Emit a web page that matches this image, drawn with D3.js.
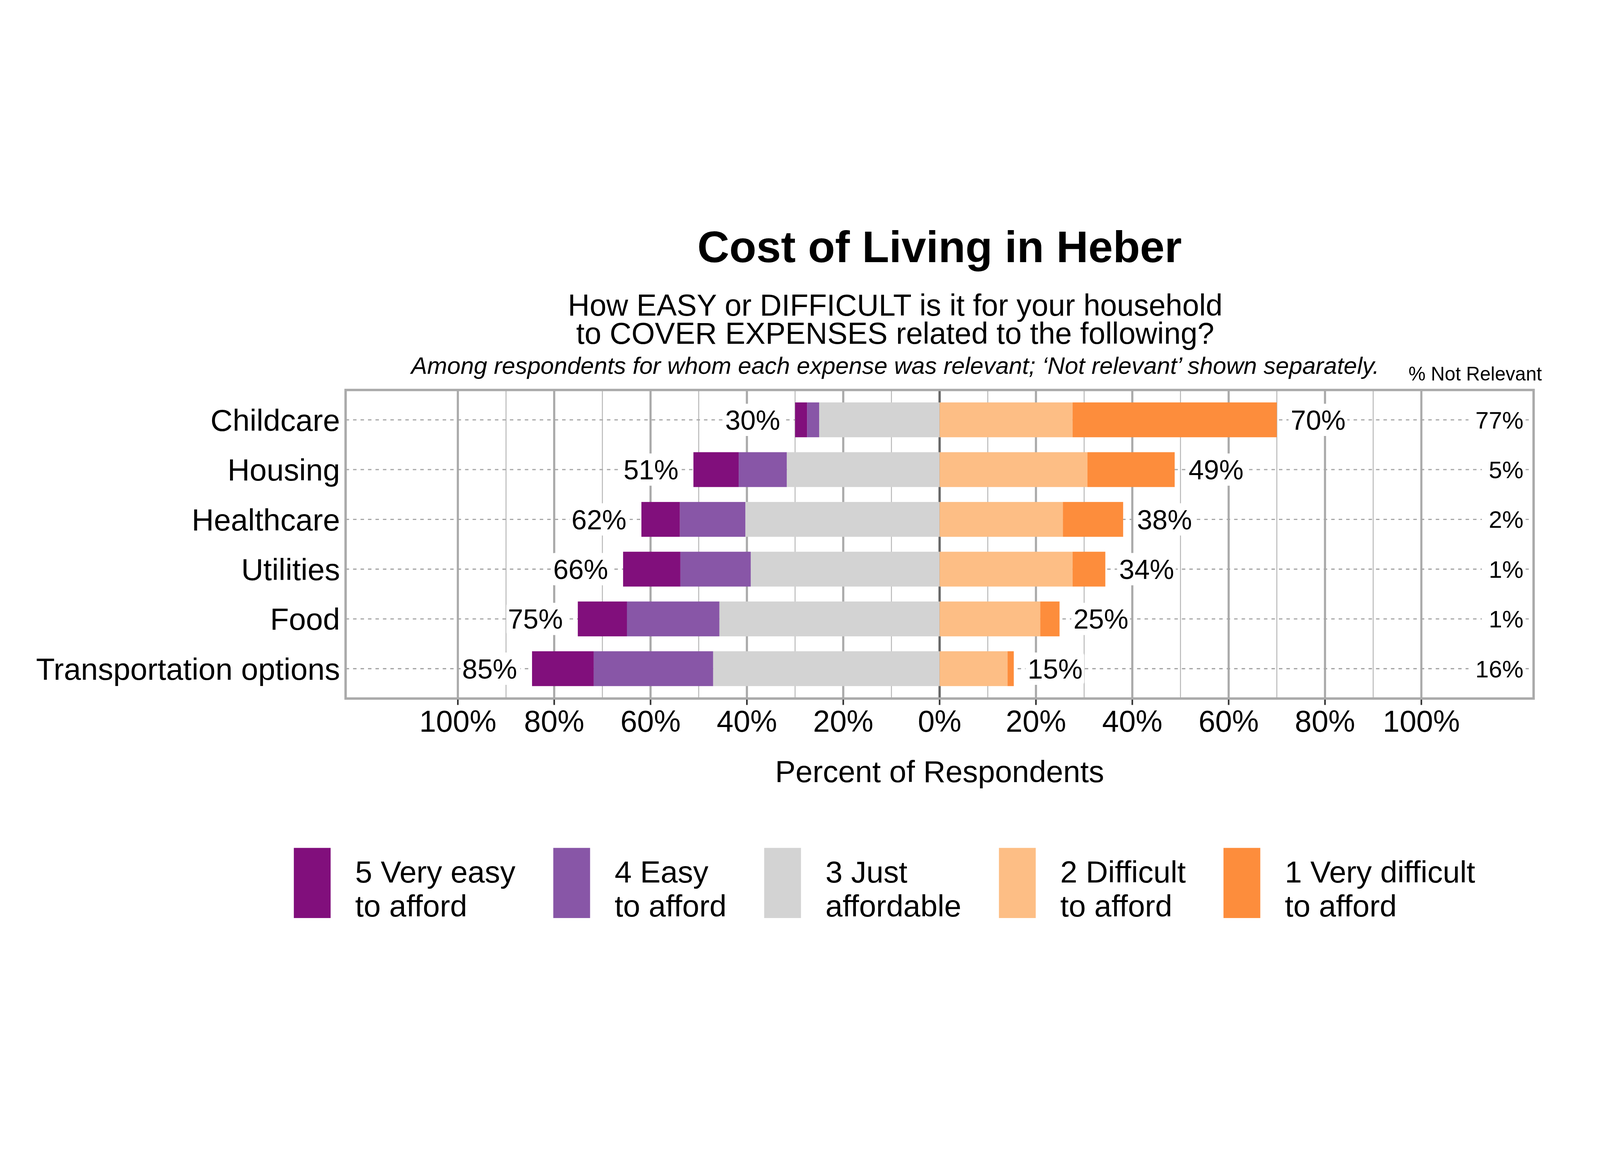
<!DOCTYPE html>
<html>
<head>
<meta charset="utf-8">
<script src="https://cdn.jsdelivr.net/npm/d3@7/dist/d3.min.js"></script>
<style>
  html, body { margin: 0; padding: 0; background: #fff; overflow: hidden; }
  #chart { display: block; width: 100vw; height: 100vh; }
  svg text { font-family: "Liberation Sans", Arial, sans-serif; fill: #000; }
</style>
</head>
<body>
<svg id="chart" viewBox="0 0 6000 3000" preserveAspectRatio="xMidYMid meet"></svg>
<script>
// --- Data (percent of respondents, among those for whom the expense was relevant)
const categories = ['Childcare', 'Housing', 'Healthcare', 'Utilities', 'Food', 'Transportation options'];
const veryEasy       = [2.5,  9.4,  8.0, 11.9, 10.2, 12.8];
const easy           = [2.5, 10.0, 13.6, 14.6, 19.2, 24.8];
const justAffordable = [25.0, 31.7, 40.3, 39.2, 45.7, 47.0];
const difficult      = [27.6, 30.7, 25.6, 27.6, 20.9, 14.1];
const veryDifficult  = [42.4, 18.1, 12.5,  6.8,  4.0,  1.3];
const notRelevant    = [77, 5, 2, 1, 1, 16];

const levels = ['5 Very easy to afford', '4 Easy to afford', '3 Just affordable', '2 Difficult to afford', '1 Very difficult to afford'];
const legendLines = [['5 Very easy', 'to afford'], ['4 Easy', 'to afford'], ['3 Just', 'affordable'], ['2 Difficult', 'to afford'], ['1 Very difficult', 'to afford']];
const colors = ['#810f7c', '#8856a7', '#d3d3d3', '#fdbe85', '#fd8d3c'];
const majorTicks = [-1, -0.8, -0.6, -0.4, -0.2, 0, 0.2, 0.4, 0.6, 0.8, 1];
const minorTicks = [-0.9, -0.7, -0.5, -0.3, -0.1, 0.1, 0.3, 0.5, 0.7, 0.9];

// --- Layout
const svg = d3.select('#chart');
const panel = { l: 1296, r: 5751, t: 765, b: 1922 };
const x = d3.scaleLinear().domain([-1.233, 1.233]).range([panel.l, panel.r]);
const y = d3.scaleLinear().domain([0.4, 6.6]).range([panel.t, panel.b]);
const yc = i => y(i + 1);
const barH = (y(1.35) - y(0.65));
const pct = d3.format('.0%');

// rows -> stacked segments
const rows = categories.map((c, i) => {
  const v = [veryEasy[i], easy[i], justAffordable[i], difficult[i], veryDifficult[i]].map(d => d / 100);
  const segs = [
    { k: 0, x0: -(v[2] + v[1] + v[0]), x1: -(v[2] + v[1]) },
    { k: 1, x0: -(v[2] + v[1]), x1: -v[2] },
    { k: 2, x0: -v[2], x1: 0 },
    { k: 3, x0: 0, x1: v[3] },
    { k: 4, x0: v[3], x1: v[3] + v[4] }
  ];
  return { c, i, segs, left: v[0] + v[1] + v[2], right: v[3] + v[4] };
});

// --- Panel background + grid
svg.append('rect').attr('x', 0).attr('y', 0).attr('width', 6000).attr('height', 3000).attr('fill', '#fff');

svg.append('g').selectAll('line').data(minorTicks).join('line')
  .attr('x1', d => x(d)).attr('x2', d => x(d)).attr('y1', panel.t).attr('y2', panel.b)
  .attr('stroke', '#b5b5b5').attr('stroke-width', 3.5);
svg.append('g').selectAll('line').data(majorTicks.filter(d => d !== 0)).join('line')
  .attr('x1', d => x(d)).attr('x2', d => x(d)).attr('y1', panel.t).attr('y2', panel.b)
  .attr('stroke', '#aaaaaa').attr('stroke-width', 8);

svg.append('g').selectAll('line').data(categories).join('line')
  .attr('x1', panel.l).attr('x2', panel.r).attr('y1', (d, i) => yc(i)).attr('y2', (d, i) => yc(i))
  .attr('stroke', '#a6a6a6').attr('stroke-width', 4.5).attr('stroke-dasharray', '13 15');

svg.append('line').attr('x1', x(0)).attr('x2', x(0)).attr('y1', panel.t).attr('y2', panel.b)
  .attr('stroke', '#666').attr('stroke-width', 8.5);

// --- Bars
svg.append('g').selectAll('g').data(rows).join('g')
  .selectAll('rect').data(r => r.segs.map(s => ({ ...s, i: r.i }))).join('rect')
  .attr('x', d => x(d.x0)).attr('width', d => x(d.x1) - x(d.x0))
  .attr('y', d => yc(d.i) - barH / 2).attr('height', barH)
  .attr('fill', d => colors[d.k]);

// --- Labels with white boxes
function boxedLabel(g, tx, ty, text, anchor, size, padL, padR, h) {
  const grp = g.append('g');
  const rect = grp.append('rect').attr('fill', '#fff').attr('rx', 10);
  const t = grp.append('text').attr('x', tx).attr('y', ty + size * 0.358)
    .attr('text-anchor', anchor).attr('font-size', size).text(text);
  const bb = t.node().getBBox();
  rect.attr('x', bb.x - padL).attr('width', bb.width + padL + padR)
    .attr('y', ty - h / 2).attr('height', h);
}

const lab = svg.append('g');
rows.forEach(r => {
  boxedLabel(lab, x(-r.left) - 56, yc(r.i), pct(r.left), 'end', 103, 6, 12, 121);
  boxedLabel(lab, x(r.right) + 52, yc(r.i), pct(r.right), 'start', 103, 8, 6, 121);
  boxedLabel(lab, 5713, yc(r.i), notRelevant[r.i] + '%', 'end', 90, 26, 8, 110);
});

// --- Panel border
svg.append('rect').attr('x', panel.l).attr('y', panel.t)
  .attr('width', panel.r - panel.l).attr('height', panel.b - panel.t)
  .attr('fill', 'none').attr('stroke', '#aaaaaa').attr('stroke-width', 9);

// --- Axes
svg.append('g').selectAll('text').data(categories).join('text')
  .attr('x', 1275).attr('y', (d, i) => yc(i) + 115 * 0.358)
  .attr('text-anchor', 'end').attr('font-size', 115).text(d => d);

svg.append('g').selectAll('line').data(majorTicks).join('line')
  .attr('x1', d => x(d)).attr('x2', d => x(d)).attr('y1', panel.b + 4).attr('y2', 1946)
  .attr('stroke', '#333').attr('stroke-width', 6);
svg.append('g').selectAll('text').data(majorTicks).join('text')
  .attr('x', d => x(d)).attr('y', 2046).attr('text-anchor', 'middle').attr('font-size', 113)
  .text(d => pct(Math.abs(d)));

svg.append('text').attr('x', x(0)).attr('y', 2235).attr('text-anchor', 'middle')
  .attr('font-size', 115).text('Percent of Respondents');

svg.append('text').attr('x', 5782).attr('y', 729).attr('text-anchor', 'end')
  .attr('font-size', 72).text('% Not Relevant');

// --- Titles
svg.append('text').attr('x', x(0)).attr('y', 285).attr('text-anchor', 'middle')
  .attr('font-size', 166).attr('font-weight', 'bold').text('Cost of Living in Heber');
svg.append('text').attr('x', 3357).attr('y', 486).attr('text-anchor', 'middle')
  .attr('font-size', 113).text('How EASY or DIFFICULT is it for your household');
svg.append('text').attr('x', 3357).attr('y', 592).attr('text-anchor', 'middle')
  .attr('font-size', 113).text('to COVER EXPENSES related to the following?');
svg.append('text').attr('x', 3357).attr('y', 704).attr('text-anchor', 'middle')
  .attr('font-size', 90).attr('font-style', 'italic')
  .text('Among respondents for whom each expense was relevant; \u2018Not relevant\u2019 shown separately.');

// --- Legend
const leg = svg.append('g');
const items = levels.map((l, k) => {
  const g = leg.append('g');
  g.append('rect').attr('x', 0).attr('y', 2482).attr('width', 138).attr('height', 263).attr('fill', colors[k]);
  const t = g.append('text').attr('x', 230).attr('font-size', 115);
  legendLines[k].forEach((s, j) => t.append('tspan').attr('x', 230).attr('y', j ? 2739 : 2612).text(s));
  return { g, w: 230 + t.node().getBBox().width };
});
const gap = 141;
const total = d3.sum(items, d => d.w) + gap * (items.length - 1);
let cx = 3317 - total / 2;
items.forEach(it => { it.g.attr('transform', `translate(${cx},0)`); cx += it.w + gap; });
</script>
</body>
</html>
